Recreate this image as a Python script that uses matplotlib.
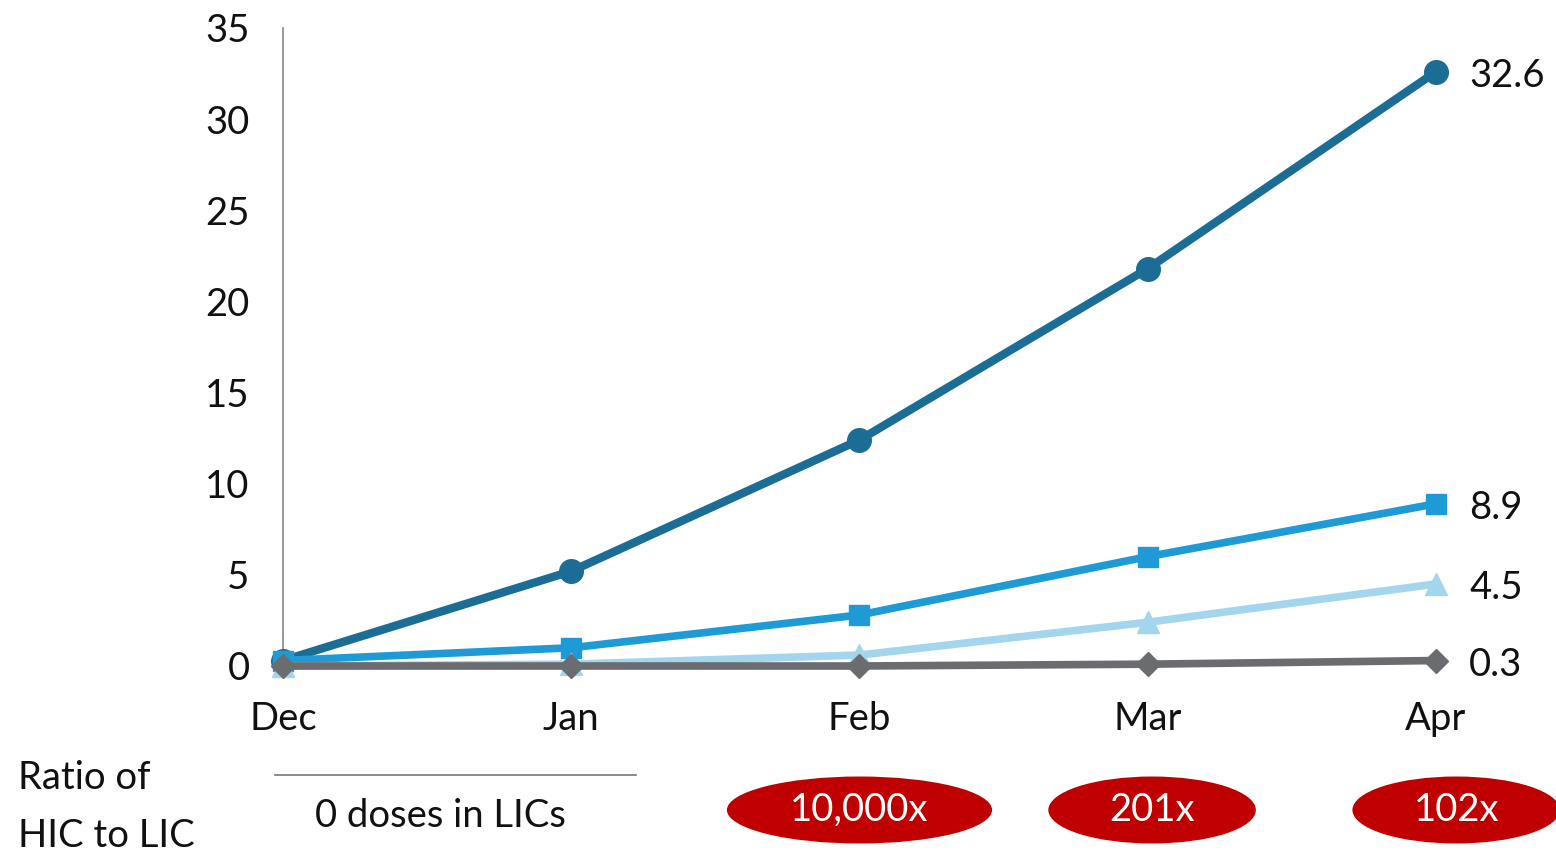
import matplotlib
matplotlib.use("Agg")
import matplotlib.pyplot as plt
from matplotlib.patches import Ellipse
from matplotlib.transforms import blended_transform_factory

months = ["Dec", "Jan", "Feb", "Mar", "Apr"]
series_a = [0.3, 5.2, 12.4, 21.8, 32.6]   # circles, dark blue
series_b = [0.3, 1.0, 2.8, 6.0, 8.9]      # squares, blue
series_c = [0.0, 0.1, 0.6, 2.4, 4.5]      # triangles, light blue
series_d = [0.0, 0.0, 0.0, 0.1, 0.3]      # diamonds, gray
end_labels = ["32.6", "8.9", "4.5", "0.3"]
ratio_months = [2, 3, 4]
ratio_labels = ["10,000x", "201x", "102x"]
yticks = [0, 5, 10, 15, 20, 25, 30, 35]

plt.rcParams['font.family'] = ['Lato', 'DejaVu Sans']
FS = 27.5

fig = plt.figure(figsize=(15.56, 8.56), dpi=100)
ax = fig.add_axes([283/1556, (856-666)/856, (1436-283)/1556, (666-28)/856])

x = list(range(len(months)))
styles = [
    (series_a, "#1C6D96", "o", 17, 6.0),
    (series_b, "#1E9AD6", "s", 15, 5.5),
    (series_c, "#A3D5EF", "^", 16, 5.5),
    (series_d, "#6B6C70", "D", 12, 5.5),
]
for i, (vals, col, mk, ms, lw) in enumerate(styles):
    ax.plot(x, vals, color=col, lw=lw, marker=mk, markersize=ms,
            clip_on=False, zorder=3 + i, solid_capstyle='round')
    ax.annotate(end_labels[i], (x[-1], vals[-1]), xytext=(24, -3),
                textcoords="offset points", va="center", ha="left",
                fontsize=FS, color="#111111")

ax.set_xlim(0, 4)
ax.set_ylim(0, 35)
ax.set_yticks(yticks)
ax.set_xticks(x)
ax.set_xticklabels(months)
ax.tick_params(axis='both', length=0, labelsize=FS, colors="#111111")
ax.tick_params(axis='y', pad=24)
ax.tick_params(axis='x', pad=25)
for s in ["top", "right", "bottom"]:
    ax.spines[s].set_visible(False)
ax.spines["left"].set_color("#888888")
ax.spines["left"].set_linewidth(1.2)

# bottom annotations
fig.text(18/1556, 1 - 778/856, "Ratio of", fontsize=FS, va="center", ha="left", color="#111111")
fig.text(18/1556, 1 - 836/856, "HIC to LIC", fontsize=FS, va="center", ha="left", color="#111111")
fig.add_artist(plt.Line2D([275/1556, 636/1556], [1 - 775/856, 1 - 775/856],
                          color="#777777", lw=1.2))
fig.text(440/1556, 1 - 816/856, "0 doses in LICs", fontsize=FS, va="center", ha="center", color="#111111")

trans = blended_transform_factory(ax.transData, fig.transFigure)
widths = [0.92, 0.72, 0.72]
offsets = [0.0, 0.015, 0.07]
for m, lab, w, off in zip(ratio_months, ratio_labels, widths, offsets):
    e = Ellipse((m + off, 1 - 810/856), w, 67/856, transform=trans,
                facecolor="#C00000", edgecolor="none", clip_on=False)
    fig.add_artist(e)
    fig.text(m + off, 1 - 810/856, lab, transform=trans, fontsize=FS,
             color="white", ha="center", va="center")

fig.savefig("out.png", dpi=100)
